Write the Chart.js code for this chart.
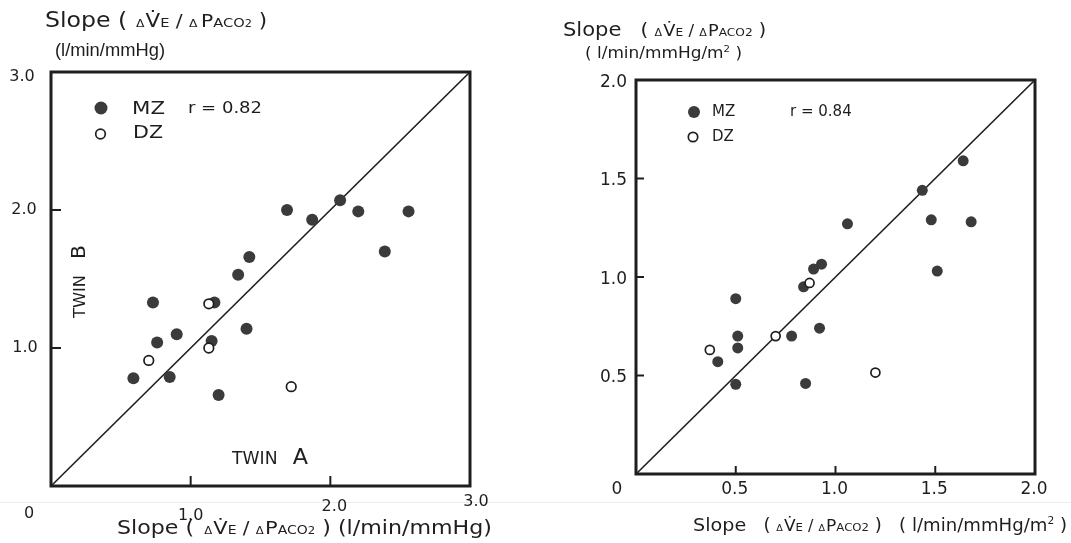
<!DOCTYPE html>
<html>
<head>
<meta charset="utf-8">
<script src="https://cdn.jsdelivr.net/npm/chart.js@4.4.1/dist/chart.umd.min.js"></script>
<style>
  html, body { margin:0; padding:0; background:#fff; }
  #wrap { position:relative; width:1071px; height:543px; overflow:hidden; background:#fff; }
  #c1 { position:absolute; left:0; top:0; }
  #c2 { position:absolute; left:540px; top:0; }
  #scan { position:absolute; left:0; top:502px; width:1071px; height:1px; background:#ececec; }
</style>
</head>
<body>
<div id="wrap">
  <div id="scan"></div>
  <canvas id="c1" width="540" height="543"></canvas>
  <canvas id="c2" width="531" height="543"></canvas>
</div>
<script>
// ---------- DATA (left: l/min/mmHg) ----------
const leftMZ_A = [1.69, 1.87, 2.07, 2.20, 2.56, 2.39, 1.42, 1.34, 0.73, 1.17, 1.40, 0.90, 0.76, 1.15, 0.59, 0.85, 1.20];
const leftMZ_B = [2.00, 1.93, 2.07, 1.99, 1.99, 1.70, 1.66, 1.53, 1.33, 1.33, 1.14, 1.10, 1.04, 1.05, 0.78, 0.79, 0.66];
const leftDZ_A = [1.13, 1.13, 0.70, 1.72];
const leftDZ_B = [1.32, 1.00, 0.91, 0.72];
const leftTickValues = [1, 2];
const leftXTickValues = [0, 1, 2, 3];
const leftXTickLabels = ["0", "1.0", "2.0", "3.0"];
const leftYTickValues = [1, 2, 3];
const leftYTickLabels = ["1.0", "2.0", "3.0"];
const leftMax = 3;
const leftR = "r = 0.82";

// ---------- DATA (right: l/min/mmHg/m²) ----------
const rightMZ_A = [1.64, 1.435, 1.48, 1.68, 1.51, 1.06, 0.93, 0.89, 0.84, 0.50, 0.51, 0.51, 0.78, 0.92, 0.41, 0.50, 0.85];
const rightMZ_B = [1.59, 1.44, 1.29, 1.28, 1.03, 1.27, 1.065, 1.04, 0.95, 0.89, 0.70, 0.64, 0.70, 0.74, 0.57, 0.455, 0.46];
const rightDZ_A = [0.87, 0.70, 0.37, 1.20];
const rightDZ_B = [0.97, 0.70, 0.63, 0.515];
const rightTickValues = [0.5, 1.0, 1.5];
const rightXTickValues = [0, 0.5, 1.0, 1.5, 2.0];
const rightXTickLabels = ["0", "0.5", "1.0", "1.5", "2.0"];
const rightYTickValues = [0.5, 1.0, 1.5, 2.0];
const rightYTickLabels = ["0.5", "1.0", "1.5", "2.0"];
const rightMax = 2;
const rightR = "r = 0.84";

const INK = '#1e1e1e';
const DOT = '#3b3b3b';
const FONT = '"DejaVu Sans", "Liberation Sans", Arial, sans-serif';
const FONT_NARROW = '"Liberation Sans", Arial, sans-serif';

function pts(xs, ys) { return xs.map((x, i) => ({ x: x, y: ys[i] })); }

function setFont(ctx, s, w, f) { ctx.font = (w || 'normal') + ' ' + s + 'px ' + (f || FONT); }
function runsWidth(ctx, runs) {
  let w = 0;
  for (const r of runs) { setFont(ctx, r.s, r.w, r.f); w += ctx.measureText(r.t).width + (r.gap || 0); }
  return w;
}
// draw a sequence of text runs starting at x (baseline y), stretched horizontally to width w
function drawFit(ctx, x, y, runs, w) {
  const nat = runsWidth(ctx, runs);
  const sx = w ? w / nat : 1;
  ctx.save();
  ctx.translate(x, y);
  ctx.scale(sx, 1);
  ctx.textBaseline = 'alphabetic';
  ctx.textAlign = 'left';
  let cx = 0;
  for (const r of runs) {
    setFont(ctx, r.s, r.w, r.f);
    ctx.fillText(r.t, cx, r.dy || 0);
    cx += ctx.measureText(r.t).width + (r.gap || 0);
  }
  ctx.restore();
}
// single label at (cx, cy), optionally stretched to width w
function drawLabel(ctx, t, cx, cy, s, w, align) {
  setFont(ctx, s);
  const nat = ctx.measureText(t).width;
  const sx = w ? w / nat : 1;
  ctx.save();
  ctx.translate(cx, cy);
  ctx.scale(sx, 1);
  ctx.textAlign = align || 'center';
  ctx.textBaseline = 'middle';
  ctx.fillText(t, 0, 0);
  ctx.restore();
}

function framePlugin(opts) {
  return {
    id: 'frame_' + opts.id,
    beforeDatasetsDraw(chart) {
      const ctx = chart.ctx, a = chart.chartArea;
      const xs = chart.scales.x, ys = chart.scales.y;
      ctx.save();
      ctx.strokeStyle = INK;
      ctx.lineWidth = 3;
      ctx.strokeRect(a.left, a.top, a.right - a.left, a.bottom - a.top);
      ctx.lineWidth = 2;
      for (const v of opts.ticks) {
        const px = xs.getPixelForValue(v);
        ctx.beginPath(); ctx.moveTo(px, a.bottom); ctx.lineTo(px, a.bottom - opts.tickLen); ctx.stroke();
        const py = ys.getPixelForValue(v);
        ctx.beginPath(); ctx.moveTo(a.left, py); ctx.lineTo(a.left + opts.tickLen, py); ctx.stroke();
      }
      ctx.restore();
    },
    afterDraw(chart) {
      const ctx = chart.ctx;
      ctx.save();
      ctx.fillStyle = INK;
      opts.text(chart, ctx);
      ctx.restore();
    }
  };
}

function makeChart(canvasId, cfg) {
  const diag = [{ x: 0, y: 0 }, { x: cfg.max, y: cfg.max }];
  return new Chart(document.getElementById(canvasId), {
    type: 'scatter',
    data: {
      datasets: [
        { label: 'line', data: diag, showLine: true, borderColor: INK, borderWidth: 1.6, pointRadius: 0, fill: false, order: 3 },
        { label: 'MZ', data: pts(cfg.mzA, cfg.mzB), pointRadius: cfg.dotR, pointBackgroundColor: DOT, pointBorderColor: DOT, pointBorderWidth: 0, order: 1 },
        { label: 'DZ', data: pts(cfg.dzA, cfg.dzB), pointRadius: cfg.openR, pointBackgroundColor: '#ffffff', pointBorderColor: INK, pointBorderWidth: 1.7, order: 0 }
      ]
    },
    options: {
      responsive: false,
      animation: false,
      layout: { padding: cfg.pad },
      plugins: { legend: { display: false }, tooltip: { enabled: false } },
      scales: {
        x: { type: 'linear', min: 0, max: cfg.max, display: false },
        y: { type: 'linear', min: 0, max: cfg.max, display: false }
      }
    },
    plugins: [framePlugin({ id: canvasId, ticks: cfg.ticks, tickLen: cfg.tickLen, text: cfg.text })]
  });
}

// ---------- LEFT CHART ----------
makeChart('c1', {
  max: leftMax, mzA: leftMZ_A, mzB: leftMZ_B, dzA: leftDZ_A, dzB: leftDZ_B,
  dotR: 6, openR: 4.8, ticks: leftTickValues, tickLen: 10,
  pad: { left: 51, right: 70, top: 72, bottom: 57 },
  text(chart, ctx) {
    const xs = chart.scales.x, ys = chart.scales.y, a = chart.chartArea;
    // title
    drawFit(ctx, 45, 27, [
      { t: 'Slope (', s: 21 }, { t: '  ', s: 12 },
      { t: '\u0394', s: 11, gap: 1 }, { t: 'V\u0307', s: 19 }, { t: 'E', s: 13 },
      { t: ' / ', s: 18 }, { t: '\u0394', s: 11, gap: 3 },
      { t: 'P', s: 18 }, { t: 'ACO', s: 13 }, { t: '2', s: 10 }, { t: ' )', s: 19 }
    ], 222);
    drawFit(ctx, 55, 56, [{ t: '(l/min/mmHg)', s: 19, f: FONT_NARROW }], 110);
    // y tick labels
    const yDx = [25, 24, 22], yDy = [0, 0, 5];
    leftYTickLabels.forEach((t, i) => {
      drawLabel(ctx, t, yDx[i], ys.getPixelForValue(leftYTickValues[i]) + yDy[i], 16, null);
    });
    // x tick labels
    const xDx = [-22, 0, 4, 6], xDy = [28, 30, 21, 16];
    leftXTickLabels.forEach((t, i) => {
      drawLabel(ctx, t, xs.getPixelForValue(leftXTickValues[i]) + xDx[i], a.bottom + xDy[i], 16, null);
    });
    // x axis title
    drawFit(ctx, 117, 534, [
      { t: 'Slope', s: 19 }, { t: ' ( ', s: 19 }, { t: ' ', s: 8 },
      { t: '\u0394', s: 10, gap: 1 }, { t: 'V\u0307', s: 18 }, { t: 'E', s: 12 },
      { t: ' / ', s: 17 }, { t: '\u0394', s: 10, gap: 1 },
      { t: 'P', s: 18 }, { t: 'ACO', s: 12 }, { t: '2', s: 10 }, { t: ' ) ', s: 19 },
      { t: '(l/min/mmHg)', s: 19 }
    ], 375);
    // legend
    ctx.beginPath(); ctx.fillStyle = DOT; ctx.arc(101, 108, 6.5, 0, Math.PI * 2); ctx.fill();
    ctx.beginPath(); ctx.strokeStyle = INK; ctx.lineWidth = 1.7; ctx.fillStyle = '#fff';
    ctx.arc(100.5, 134, 4.8, 0, Math.PI * 2); ctx.fill(); ctx.stroke();
    ctx.fillStyle = INK;
    drawLabel(ctx, 'MZ', 132, 109, 18, 33, 'left');
    drawLabel(ctx, 'DZ', 133, 133, 18, 30, 'left');
    drawLabel(ctx, leftR, 188, 109, 16, 74, 'left');
    // TWIN B (rotated)
    ctx.save();
    ctx.translate(85, 318); ctx.rotate(-Math.PI / 2);
    drawFit(ctx, 0, 0, [{ t: 'TWIN', s: 16, gap: 16 }, { t: 'B', s: 20 }], 73);
    ctx.restore();
    // TWIN A
    drawFit(ctx, 232, 464, [{ t: 'TWIN', s: 17, gap: 15 }, { t: 'A', s: 22 }], 76);
  }
});

// ---------- RIGHT CHART ----------
makeChart('c2', {
  max: rightMax, mzA: rightMZ_A, mzB: rightMZ_B, dzA: rightDZ_A, dzB: rightDZ_B,
  dotR: 5.5, openR: 4.5, ticks: rightTickValues, tickLen: 8,
  pad: { left: 96, right: 36, top: 80, bottom: 69 },
  text(chart, ctx) {
    const xs = chart.scales.x, ys = chart.scales.y, a = chart.chartArea;
    const ox = -540;
    // title
    drawFit(ctx, 563 + ox, 36, [
      { t: 'Slope', s: 19 }, { t: '   ( ', s: 18 },
      { t: '\u0394', s: 10, gap: 1 }, { t: 'V\u0307', s: 16 }, { t: 'E', s: 11 },
      { t: ' / ', s: 15 }, { t: '\u0394', s: 10, gap: 1 },
      { t: 'P', s: 16 }, { t: 'ACO2', s: 11 }, { t: ' )', s: 17 }
    ], 203);
    drawFit(ctx, 585 + ox, 58, [{ t: '( l/min/mmHg/m', s: 15 }, { t: '2', s: 9, dy: -6 }, { t: ' )', s: 15 }], 157);
    // y tick labels
    rightYTickLabels.forEach((t, i) => {
      drawLabel(ctx, t, 627 + ox, ys.getPixelForValue(rightYTickValues[i]) + 2.5, 17, null, 'right');
    });
    // x tick labels
    rightXTickLabels.forEach((t, i) => {
      const px = i === 0 ? 617 + ox : xs.getPixelForValue(rightXTickValues[i]) - 1;
      drawLabel(ctx, t, px, a.bottom + 16, 17, null);
    });
    // x axis title
    drawFit(ctx, 693 + ox, 531, [
      { t: 'Slope', s: 18 }, { t: '   ( ', s: 17 },
      { t: '\u0394', s: 9, gap: 1 }, { t: 'V\u0307', s: 16 }, { t: 'E', s: 11 },
      { t: ' / ', s: 15 }, { t: '\u0394', s: 9, gap: 1 },
      { t: 'P', s: 16 }, { t: 'ACO2', s: 11 }, { t: ' )   ', s: 17 },
      { t: '( l/min/mmHg/m', s: 17 }, { t: '2', s: 10, dy: -7 }, { t: ' )', s: 17 }
    ], 374);
    // legend
    ctx.beginPath(); ctx.fillStyle = DOT; ctx.arc(694 + ox, 112, 6, 0, Math.PI * 2); ctx.fill();
    ctx.beginPath(); ctx.strokeStyle = INK; ctx.lineWidth = 1.7; ctx.fillStyle = '#fff';
    ctx.arc(693 + ox, 137, 4.7, 0, Math.PI * 2); ctx.fill(); ctx.stroke();
    ctx.fillStyle = INK;
    drawLabel(ctx, 'MZ', 712 + ox, 112, 15, null, 'left');
    drawLabel(ctx, 'DZ', 712 + ox, 137, 15, null, 'left');
    drawLabel(ctx, rightR, 790 + ox, 112, 15, null, 'left');
  }
});
</script>
</body>
</html>
